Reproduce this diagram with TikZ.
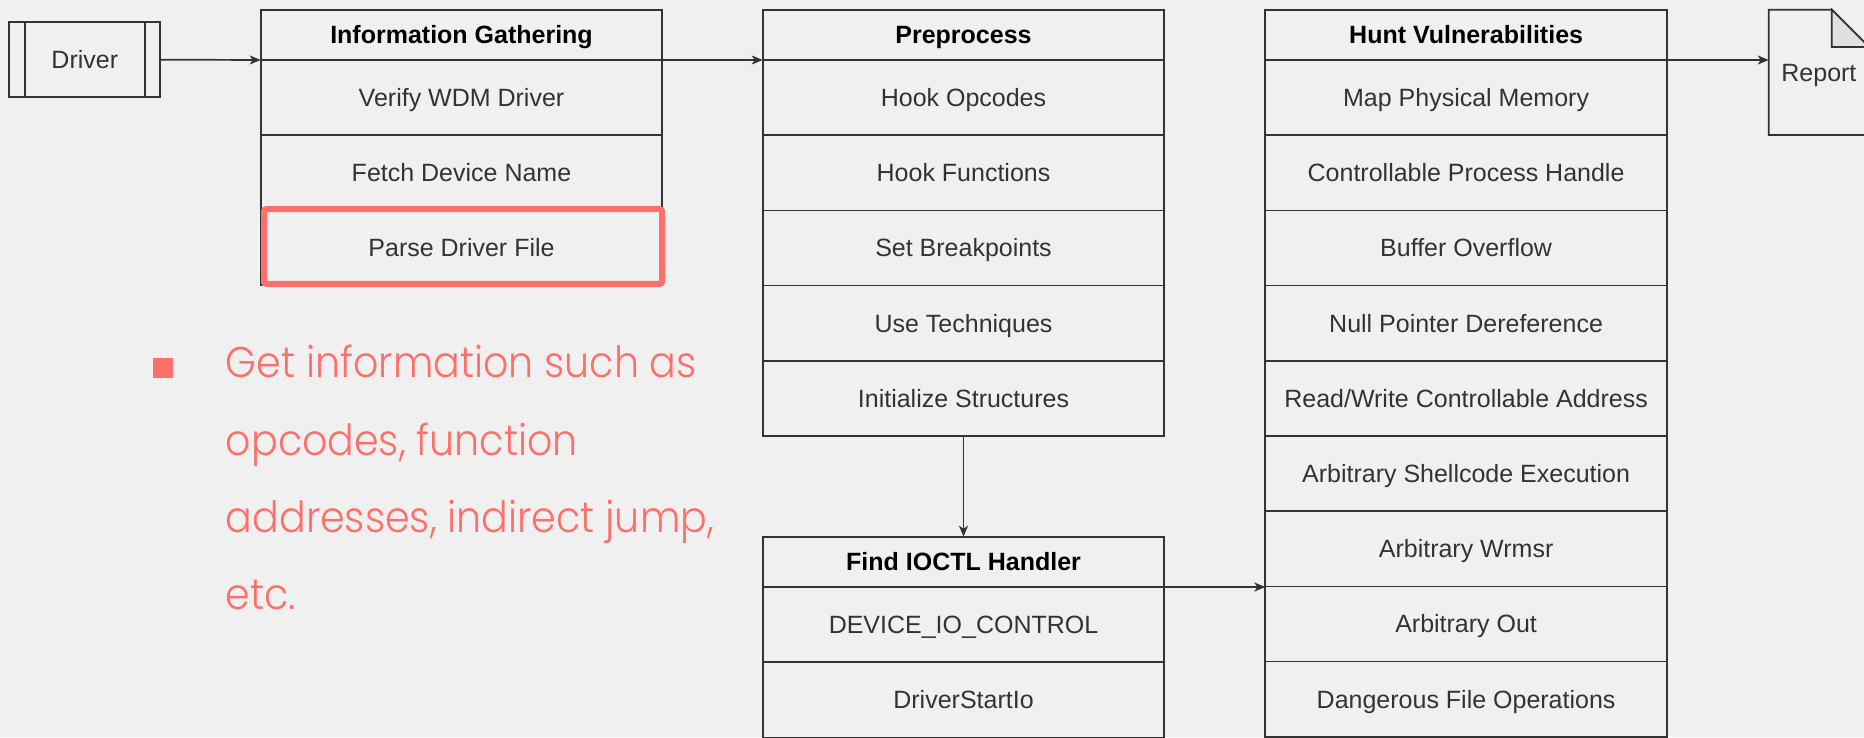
\documentclass[tikz,border=0pt]{standalone}
\usepackage{fontspec}
\setmainfont{Liberation Sans}
\newfontfamily\notefont{Poppins Light}[FakeStretch=0.92]
\usetikzlibrary{arrows.meta}

\definecolor{bg}{HTML}{F0F0F0}
\definecolor{edge}{HTML}{333333}
\definecolor{ink}{HTML}{333333}
\definecolor{accent}{HTML}{FF6F69}
\definecolor{fold}{HTML}{E0E0E0}

\tikzset{
  boxline/.style={draw=edge, line width=1.7pt},
  cell/.style={boxline, rectangle, inner sep=0pt, outer sep=0pt,
    minimum width=401.6pt, minimum height=75.2pt, anchor=north west,
    font=\fontsize{25}{30}\selectfont, text=ink,
    text height=17.9pt, text depth=0pt},
  headcell/.style={cell, minimum height=50.3pt,
    font=\fontsize{25}{30}\selectfont\bfseries, text=black},
  flow/.style={boxline, -{Stealth[length=11pt,width=9pt,inset=3pt]}},
  note/.style={anchor=base west, inner sep=0pt, text=accent,
    font=\notefont\fontsize{43}{50}\selectfont},
  hilite/.style={draw=accent, line width=6pt, rounded corners=2pt},
}

\begin{document}
\begin{tikzpicture}[x=1pt,y=-1pt]
  % canvas
  \fill[bg] (0,0) rectangle (1864,737);
  \useasboundingbox (0,0) rectangle (1864,737);

  % input: driver (process box with side bars)
  \node[boxline, rectangle, minimum width=151pt, minimum height=75.3pt,
        inner sep=0pt, outer sep=0pt, font=\fontsize{25}{30}\selectfont,
        text=ink, text height=17.9pt, text depth=0pt] (drv) at (84.8,59.65) {Driver};
  \draw[boxline] ([xshift=15.4pt]drv.north west) -- ([xshift=15.4pt]drv.south west);
  \draw[boxline] ([xshift=-15.4pt]drv.north east) -- ([xshift=-15.4pt]drv.south east);

  % stage 1: information gathering
  \node[headcell] (ig0) at (260.7,9.7) {Information Gathering};
  \foreach \t [count=\i] in {Verify WDM Driver, Fetch Device Name, Parse Driver File}
    \node[cell] (ig\i) at (260.7,{60+75.2*(\i-1)}) {\t};

  % stage 2: preprocess
  \node[headcell] (pr0) at (762.7,9.7) {Preprocess};
  \foreach \t [count=\i] in {Hook Opcodes, Hook Functions, Set Breakpoints,
                            Use Techniques, Initialize Structures}
    \node[cell] (pr\i) at (762.7,{60+75.2*(\i-1)}) {\t};

  % stage 3: IOCTL handler lookup
  \node[headcell] (fh0) at (762.7,536.7) {Find IOCTL Handler};
  \foreach \t [count=\i] in {DEVICE\_IO\_CONTROL, DriverStartIo}
    \node[cell] (fh\i) at (762.7,{587+75.2*(\i-1)}) {\t};

  % stage 4: vulnerability hunting
  \node[headcell] (hv0) at (1265.3,9.7) {Hunt Vulnerabilities};
  \foreach \t [count=\i] in {Map Physical Memory, Controllable Process Handle,
      Buffer Overflow, Null Pointer Dereference, Read/Write Controllable Address,
      Arbitrary Shellcode Execution, Arbitrary Wrmsr, Arbitrary Out,
      Dangerous File Operations}
    \node[cell] (hv\i) at (1265.3,{60+75.2*(\i-1)}) {\t};

  % output: report document with folded corner
  \node[rectangle, minimum width=100.3pt, minimum height=125.3pt,
        inner sep=0pt, outer sep=0pt, font=\fontsize{25}{30}\selectfont,
        text=ink, text height=17.9pt, text depth=0pt] (rep) at (1818.9,72.35) {Report};
  \draw[boxline] (rep.north west) -- ([xshift=-37.3pt]rep.north east)
    -- ([yshift=-37.3pt]rep.north east) -- (rep.south east)
    -- (rep.south west) -- cycle;
  \draw[boxline, fill=fold] ([xshift=-37.3pt]rep.north east)
    -- ([xshift=-37.3pt,yshift=-37.3pt]rep.north east)
    -- ([yshift=-37.3pt]rep.north east) -- cycle;

  % highlighted step
  \draw[hilite] (264,209.2) rectangle (662,283.8);

  % flow between stages
  \draw[flow] (drv.east) -- (ig0.south west);
  \draw[flow] (ig0.south east) -- (pr0.south west);
  \draw[flow] (pr5.south) -- (fh0.north);
  \draw[flow] (fh0.south east) -- (fh0.south east -| hv7.west);
  \draw[flow] (hv0.south east) -- (hv0.south east -| rep.west);

  % side note
  \node[fill=accent, minimum size=20pt, inner sep=0pt, outer sep=0pt,
        anchor=north west] (blt) at (153.3,358.3) {};
  \node[note] (n1) at (225.7,377.7) {Get information such as};
  \node[note] (n2) at (225.7,455.7) {opcodes, function};
  \node[note] (n3) at (225.7,532.0) {addresses, indirect jump,};
  \node[note] (n4) at (225.7,609.0) {etc.};
\end{tikzpicture}
\end{document}
